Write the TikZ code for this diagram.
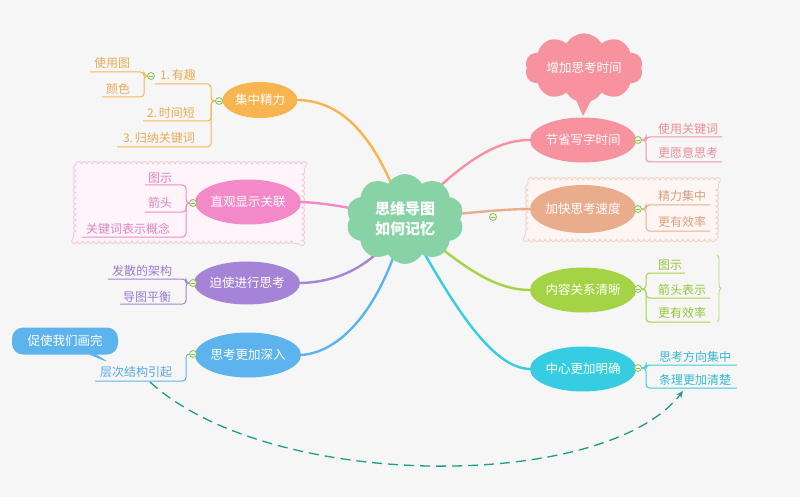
\documentclass[tikz,border=0pt]{standalone}
\usepackage{fontspec}
\newfontfamily\cjk{Noto Sans CJK SC}
\usetikzlibrary{shapes.geometric,shapes.symbols,shapes.callouts,decorations.pathmorphing,decorations.pathreplacing,arrows.meta}
\pgfdeclarelayer{back}
\pgfsetlayers{back,main}
\definecolor{bgc}{HTML}{F6F6F6}
\definecolor{mint}{HTML}{88D3A5}
\definecolor{orC}{HTML}{F8B54F}
\definecolor{orT}{HTML}{E8AC55}
\definecolor{pkC}{HTML}{F489C7}
\definecolor{pkT}{HTML}{DE86BE}
\definecolor{puC}{HTML}{A584D8}
\definecolor{puT}{HTML}{9A7CD0}
\definecolor{blC}{HTML}{5DB3EE}
\definecolor{blT}{HTML}{55A8E0}
\definecolor{rdC}{HTML}{F7939F}
\definecolor{rdT}{HTML}{EC8C98}
\definecolor{peC}{HTML}{E9AD8D}
\definecolor{peT}{HTML}{D9A080}
\definecolor{grC}{HTML}{A4D445}
\definecolor{grT}{HTML}{96C63C}
\definecolor{cyC}{HTML}{36CDE2}
\definecolor{cyT}{HTML}{35B8D2}
\definecolor{foldc}{HTML}{8CC152}
\definecolor{foldf}{HTML}{EEF7E4}
\definecolor{teal}{HTML}{1E9A8C}
\tikzset{
  topic/.style={ellipse, minimum width=100pt, minimum height=45pt, inner sep=0pt, text=white, font=\cjk\fontsize{12.5}{15}\selectfont},
  leaf/.style={font=\cjk\fontsize{12}{14}\selectfont, inner sep=0pt},
  fold/.style={circle, draw=foldc, fill=foldf, line width=0.8pt, minimum size=7pt, inner sep=0pt,
    path picture={\draw[foldc, line width=0.8pt] ([xshift=-2pt]path picture bounding box.center) -- ([xshift=2pt]path picture bounding box.center);}},
  branch/.style={line width=2.4pt, line cap=round},
  sub/.style={line width=1pt, rounded corners=3.5pt},
  wavy/.style={decorate, decoration={bumps, segment length=11pt, amplitude=2.6pt}, line width=0.8pt}
}
\begin{document}
\begin{tikzpicture}[x=1pt,y=-1pt]
\begin{pgfonlayer}{back}
\fill[bgc] (0,0) rectangle (800,497);
\useasboundingbox (0,0) rectangle (800,497);
\fill[pkC!9!white] (76,164) -- (302,164) -- (302,241) -- (76,241) -- cycle;
\draw[wavy, pkC!50!white] (76,164) -- (302,164) -- (302,241) -- (76,241) -- cycle;
\fill[peC!11!white] (528,180) -- (716,180) -- (716,239) -- (528,239) -- cycle;
\draw[wavy, peC!55!white] (528,180) -- (716,180) -- (716,239) -- (528,239) -- cycle;
\end{pgfonlayer}

% central
\node[cloud, cloud puffs=10, cloud puff arc=120, aspect=1.3, fill=mint, minimum width=118pt, minimum height=90pt, inner sep=0pt, text=white, align=center, font=\cjk\bfseries\fontsize{15}{20}\selectfont] (root) at (405,219) {思维导图\\如何记忆};

% main topics
\node[topic, fill=orC, minimum width=75pt, minimum height=36pt] (n1) at (260,100) {集中精力};
\node[topic, fill=pkC] (n2) at (248,202) {直观显示关联};
\node[topic, fill=puC, minimum height=43pt] (n3) at (247,283) {迫使进行思考};
\node[topic, fill=blC] (n4) at (248,355) {思考更加深入};
\node[topic, fill=rdC] (n5) at (583,140) {节省写字时间};
\node[topic, fill=peC, minimum height=48pt] (n6) at (583,209) {加快思考速度};
\node[topic, fill=grC] (n7) at (583,290) {内容关系清晰};
\node[topic, fill=cyC] (n8) at (583,369) {中心更加明确};

% callouts
\node[cloud, cloud puffs=10, cloud puff arc=120, aspect=2, fill=rdC, minimum width=118pt, minimum height=62pt, inner sep=0pt, text=white, font=\cjk\fontsize{12.5}{15}\selectfont] (cl) at (584,68) {增加思考时间};
\coordinate (cltip) at (583,116);
\fill[rdC] ([xshift=-11pt,yshift=10pt]cl.south) -- ([xshift=11pt,yshift=10pt]cl.south) -- (cltip) -- cycle;
\node[rectangle callout, rounded corners=11pt, fill=blC, text=white, minimum width=106pt, minimum height=27pt, inner sep=0pt, font=\cjk\fontsize{12.5}{15}\selectfont, callout absolute pointer={(112,364)}] (cb) at (65,341) {促使我们画完};

% fold circles
\node[fold] (c0) at (493,217) {};
\node[fold] (c1) at (219,101) {};
\node[fold] (c1a) at (151,76) {};
\node[fold] (c2) at (193,203) {};
\node[fold] (c3) at (193,283) {};
\node[fold] (c4) at (193,354) {};
\node[fold] (c5) at (638,140) {};
\node[fold] (c6) at (638,209) {};
\node[fold] (c7) at (638,289) {};
\node[fold] (c8) at (638,368) {};

% leaves left
\node[leaf, text=orT] (l1) at (178,75) {1.\,有趣};
\node[leaf, text=orT] (l1a) at (112,63) {使用图};
\node[leaf, text=orT] (l1b) at (118,89) {颜色};
\node[leaf, text=orT] (l2) at (171,113) {2.\,时间短};
\node[leaf, text=orT] (l3) at (159,138) {3.\,归纳关键词};
\node[leaf, text=pkT] (p1) at (160,178) {图示};
\node[leaf, text=pkT] (p2) at (160,203) {箭头};
\node[leaf, text=pkT] (p3) at (128,229) {关键词表示概念};
\node[leaf, text=puT] (q1) at (142,271) {发散的架构};
\node[leaf, text=puT] (q2) at (147,297) {导图平衡};
\node[leaf, text=blT] (b1) at (136,372) {层次结构引起};
% leaves right
\node[leaf, text=rdT] (r1) at (688,129) {使用关键词};
\node[leaf, text=rdT] (r2) at (688,153) {更愿意思考};
\node[leaf, text=peT] (e1) at (682,196) {精力集中};
\node[leaf, text=peT] (e2) at (682,222) {更有效率};
\node[leaf, text=grT] (g1) at (670,265) {图示};
\node[leaf, text=grT] (g2) at (682,290) {箭头表示};
\node[leaf, text=grT] (g3) at (682,313) {更有效率};
\node[leaf, text=cyT] (y1) at (695,357) {思考方向集中};
\node[leaf, text=cyT] (y2) at (695,380) {条理更加清楚};

\begin{pgfonlayer}{back}
% main branches
\draw[branch, orC] (n1.east) .. controls (345,101) and (378,140) .. (root.center);
\draw[branch, pkC] (n2.east) .. controls (330,203) and (360,210) .. (root.center);
\draw[branch, puC] (n3.east) .. controls (345,282) and (380,260) .. (root.center);
\draw[branch, blC] (n4.east) .. controls (345,352) and (385,300) .. (root.center);
\draw[branch, rdC] (n5.west) .. controls (490,140) and (455,170) .. (root.center);
\draw[branch, peC] (n6.west) .. controls (500,209) and (460,214) .. (root.center);
\draw[branch, grC] (n7.west) .. controls (490,290) and (455,260) .. (root.center);
\draw[branch, cyC] (n8.west) .. controls (490,368) and (450,300) .. (root.center);
% sub branches left
\draw[sub, orC] (c1.west) -- (211,101) -- (211,84) -- (155,84);
\draw[sub, orC] (c1.west) -- (211,101) -- (211,121) -- (143,121);
\draw[sub, orC] (c1.west) -- (211,101) -- (211,147) -- (117,147);
\draw[sub, orC] (c1a.west) -- (144,76) -- (144,72) -- (90,72);
\draw[sub, orC] (c1a.west) -- (144,76) -- (144,97) -- (102,97);
\draw[sub, pkC] (c2.west) -- (186,203) -- (186,185) -- (145,185);
\draw[sub, pkC] (c2.west) -- (186,203) -- (186,212) -- (145,212);
\draw[sub, pkC] (c2.west) -- (186,203) -- (186,237) -- (82,237);
\draw[sub, puC] (c3.west) -- (186,283) -- (186,279) -- (108,279);
\draw[sub, puC] (c3.west) -- (186,283) -- (186,304) -- (120,304);
\draw[sub, blC] (c4.west) -- (186,354) -- (186,381) -- (95,381);
% sub branches right
\draw[sub, rdC] (c5.east) -- (646,140) -- (646,137) -- (722,137);
\draw[sub, rdC] (c5.east) -- (646,140) -- (646,162) -- (722,162);
\draw[sub, peC] (c6.east) -- (646,209) -- (646,205) -- (710,205);
\draw[sub, peC] (c6.east) -- (646,209) -- (646,231) -- (710,231);
\draw[sub, grC] (c7.east) -- (646,289) -- (646,273) -- (685,273);
\draw[sub, grC] (c7.east) -- (646,289) -- (646,298) -- (710,298);
\draw[sub, grC] (c7.east) -- (646,289) -- (646,322) -- (710,322);
\draw[sub, cyC] (c8.east) -- (646,368) -- (646,365) -- (737,365);
\draw[sub, cyC] (c8.east) -- (646,368) -- (646,388) -- (737,388);
\end{pgfonlayer}

% brace
\draw[grC!80!white, line width=0.8pt, decorate, decoration={brace, amplitude=4pt}] (717,255) -- (717,322);

% relation arrow
\coordinate (ra) at (150,382);
\coordinate (rb) at (683,391);
\draw[teal, line width=1.3pt, dash pattern=on 10pt off 6pt, -{Stealth[length=7pt,width=6pt]}] (ra) .. controls (270,492) and (605,492) .. (rb);
\end{tikzpicture}
\end{document}
